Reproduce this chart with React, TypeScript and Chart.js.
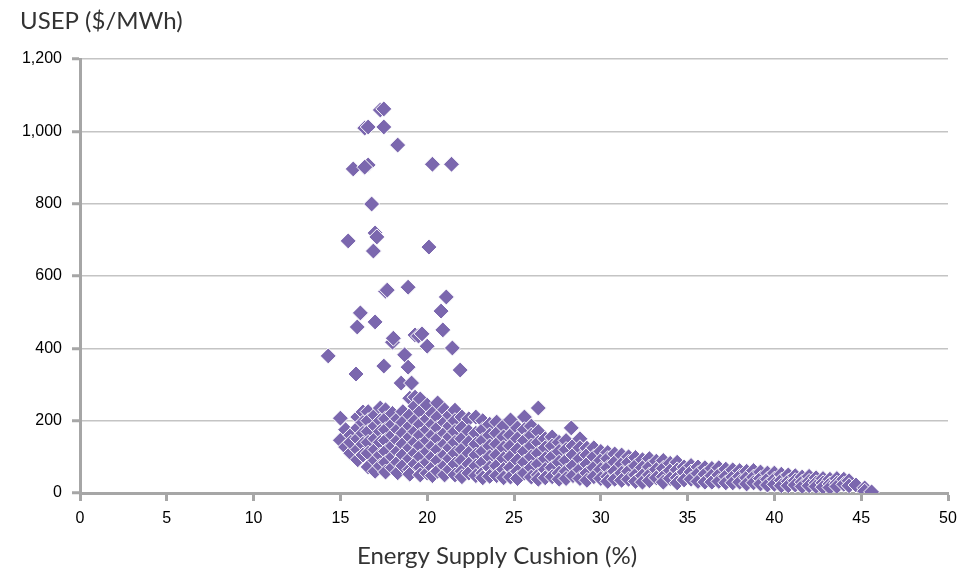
import { useEffect, useRef } from 'react';
import { Chart, registerables } from 'chart.js';

Chart.register(...registerables);

const xTickValues = [0, 5, 10, 15, 20, 25, 30, 35, 40, 45, 50];
const yTickValues = [0, 200, 400, 600, 800, 1000, 1200];

// Scattered high-price points
const outlierX = [14.3, 15.45, 15.74, 15.9, 15.97, 16.15, 16.4, 16.6, 16.6, 16.4, 16.8, 17.0, 17.1, 16.9, 17.0, 17.3, 17.5, 17.5, 17.5, 17.6, 17.7, 18.0, 18.05, 18.3, 18.5, 18.7, 18.9, 18.9, 19.1, 19.3, 19.5, 19.7, 20.0, 20.1, 20.3, 20.8, 20.9, 21.1, 21.4, 21.45, 21.9, 26.4, 28.3];
const outlierY = [379, 697, 896, 329, 459, 498, 1009, 1012, 907, 901, 799, 719, 708, 669, 473, 1059, 1062, 1012, 351, 558, 561, 417, 428, 962, 304, 382, 348, 569, 304, 437, 434, 440, 406, 680, 909, 503, 451, 542, 909, 401, 340, 235, 180];

// Dense cloud, grouped by cushion value
const cloudX = [15.0, 15.3, 15.6, 16.0, 16.3, 16.6, 17.0, 17.3, 17.6, 18.0, 18.3, 18.6, 19.0, 19.3, 19.6, 20.0, 20.3, 20.6, 21.0, 21.3, 21.6, 22.0, 22.4, 22.8, 23.2, 23.6, 24.0, 24.4, 24.8, 25.2, 25.6, 26.0, 26.4, 26.8, 27.2, 27.6, 28.0, 28.4, 28.8, 29.2, 29.6, 30.0, 30.4, 30.8, 31.2, 31.6, 32.0, 32.4, 32.8, 33.2, 33.6, 34.0, 34.4, 34.8, 35.2, 35.6, 36.0, 36.4, 36.8, 37.2, 37.6, 38.0, 38.4, 38.8, 39.2, 39.6, 40.0, 40.4, 40.8, 41.2, 41.6, 42.0, 42.4, 42.8, 43.2, 43.6, 44.0, 44.3, 44.7, 45.2, 45.6];
const cloudY = [
  [207, 146],
  [127, 175],
  [160, 110, 140],
  [210, 180, 150, 120, 92],
  [224, 195, 165, 135, 105],
  [225, 200, 170, 140, 110, 72],
  [215, 185, 150, 120, 90, 60],
  [235, 200, 170, 140, 105, 75],
  [230, 205, 175, 145, 115, 85, 58],
  [220, 190, 160, 130, 100, 70],
  [205, 175, 145, 115, 85, 56],
  [225, 195, 165, 135, 105, 75],
  [262, 215, 185, 155, 125, 95, 65, 52],
  [265, 240, 200, 170, 140, 110, 80],
  [260, 225, 190, 160, 130, 100, 70, 50],
  [243, 205, 175, 145, 115, 85, 55],
  [220, 190, 160, 130, 100, 70, 48],
  [249, 210, 180, 150, 120, 90, 60],
  [230, 195, 165, 135, 105, 75, 50],
  [215, 185, 155, 125, 95, 65],
  [229, 200, 170, 140, 110, 80, 50],
  [210, 180, 150, 120, 90, 60, 45],
  [205, 170, 140, 110, 80, 55],
  [210, 165, 135, 105, 75, 48],
  [200, 175, 145, 115, 85, 55, 42],
  [190, 160, 130, 100, 70, 46],
  [196, 165, 135, 105, 75, 48],
  [185, 155, 125, 95, 65, 42],
  [202, 160, 130, 100, 70, 44],
  [180, 150, 120, 90, 60, 40],
  [210, 175, 145, 115, 85, 55],
  [185, 160, 130, 100, 70, 44],
  [170, 140, 110, 80, 50, 38],
  [150, 125, 95, 65, 42],
  [155, 130, 100, 70, 45],
  [140, 115, 85, 55, 38],
  [145, 120, 90, 60, 40],
  [130, 105, 75, 48],
  [150, 125, 95, 65, 40],
  [124, 105, 80, 55, 35],
  [125, 100, 70, 45],
  [115, 90, 65, 40],
  [112, 95, 70, 45, 32],
  [108, 85, 60, 38],
  [105, 80, 55, 35],
  [100, 85, 60, 38],
  [98, 75, 50, 32],
  [92, 70, 48, 30],
  [95, 72, 50, 34],
  [88, 65, 42],
  [90, 68, 45, 30],
  [82, 62, 40],
  [85, 64, 42, 28],
  [72, 58, 36],
  [76, 58, 38],
  [72, 54, 32],
  [70, 52, 30],
  [68, 48, 30],
  [70, 50, 32],
  [66, 46, 28],
  [64, 44, 28],
  [62, 46, 30],
  [60, 42, 25],
  [62, 44, 28],
  [58, 40, 25],
  [55, 38, 22],
  [55, 38, 24],
  [52, 35, 20],
  [50, 32, 20],
  [48, 34, 22],
  [44, 30, 18],
  [46, 32, 20],
  [42, 28, 18],
  [40, 28, 16],
  [38, 25, 15],
  [40, 27, 18],
  [38, 24],
  [34, 20],
  [22],
  [14, 5],
  [3],
];

const PURPLE = '#7b67ae';
const AXIS_GRAY = '#a6a6a6';

const titlesPlugin = {
  id: 'titles',
  afterDraw(chart: any) {
    const ctx = chart.ctx;
    ctx.save();
    ctx.fillStyle = '#333333';
    ctx.font = '24px Lato, "Open Sans", sans-serif';
    ctx.textBaseline = 'middle';
    ctx.textAlign = 'left';
    ctx.fillText('USEP ($/MWh)', 20, 21);
    ctx.textAlign = 'center';
    ctx.fillText('Energy Supply Cushion (%)', 497, 556);
    ctx.restore();
  },
};

export default function App() {
  const ref = useRef<HTMLCanvasElement>(null);

  useEffect(() => {
    const points: { x: number; y: number }[] = [];
    cloudX.forEach((x, i) => {
      cloudY[i].forEach((y) => points.push({ x, y }));
    });
    outlierX.forEach((x, i) => points.push({ x, y: outlierY[i] }));

    const chart = new Chart(ref.current!, {
      type: 'scatter',
      data: {
        datasets: [
          {
            data: points,
            pointStyle: 'rectRot',
            pointRadius: 8,
            pointBackgroundColor: PURPLE,
            pointBorderColor: '#ffffff',
            pointBorderWidth: 1,
          },
        ],
      },
      options: {
        animation: false,
        responsive: true,
        maintainAspectRatio: false,
        events: [],
        layout: { padding: { top: 59, right: 23, left: 0, bottom: 0 } },
        plugins: {
          legend: { display: false },
          tooltip: { enabled: false },
        },
        scales: {
          x: {
            type: 'linear',
            min: 0,
            max: 50,
            afterBuildTicks: (s: any) => {
              s.ticks = xTickValues.map((v) => ({ value: v }));
            },
            afterFit: (s: any) => {
              s.height = 81;
            },
            ticks: {
              color: '#000000',
              font: { family: '"Liberation Sans", Arial, sans-serif', size: 16 },
              padding: 8,
              maxRotation: 0,
            },
            grid: {
              drawOnChartArea: false,
              tickLength: 8,
              tickColor: AXIS_GRAY,
              tickWidth: 3,
            },
            border: { color: AXIS_GRAY, width: 3 },
          },
          y: {
            type: 'linear',
            min: 0,
            max: 1200,
            afterBuildTicks: (s: any) => {
              s.ticks = yTickValues.map((v) => ({ value: v }));
            },
            afterFit: (s: any) => {
              s.width = 80;
            },
            ticks: {
              color: '#000000',
              font: { family: '"Liberation Sans", Arial, sans-serif', size: 16 },
              padding: 10,
            },
            grid: {
              color: '#c4c4c4',
              lineWidth: 1.5,
              tickLength: 8,
              tickColor: AXIS_GRAY,
              tickWidth: 3,
            },
            border: { color: AXIS_GRAY, width: 3 },
          },
        },
      },
      plugins: [titlesPlugin],
    });
    return () => chart.destroy();
  }, []);

  return (
    <div style={{ position: 'fixed', left: 0, top: 0, width: 971, height: 574, background: '#ffffff' }}>
      <canvas ref={ref} />
    </div>
  );
}
